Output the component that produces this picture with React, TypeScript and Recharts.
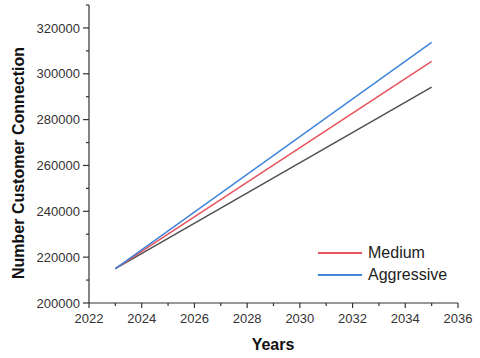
import { Line, LineChart, XAxis, YAxis } from "recharts";

const years = [2023, 2035];
const lowValues = [215000, 294200];
const mediumValues = [215000, 305400];
const aggressiveValues = [215000, 313700];

const xTicks = [2022, 2023, 2024, 2025, 2026, 2027, 2028, 2029, 2030, 2031, 2032, 2033, 2034, 2035, 2036];
const yTicks = [200000, 210000, 220000, 230000, 240000, 250000, 260000, 270000, 280000, 290000, 300000, 310000, 320000, 330000];

const series = [
  { key: "low", name: "Low", color: "#505050", values: lowValues, inLegend: false },
  { key: "medium", name: "Medium", color: "#e8525c", values: mediumValues, inLegend: true },
  { key: "aggressive", name: "Aggressive", color: "#3f86d9", values: aggressiveValues, inLegend: true },
];

const data = years.map((year, i) => {
  const row: Record<string, number> = { year };
  series.forEach((s) => {
    row[s.key] = s.values[i];
  });
  return row;
});

const FONT = '"Liberation Sans", Arial, sans-serif';
const AXIS = "#333";

function XTick(props: any) {
  const { x, y, payload } = props;
  const major = payload.value % 2 === 0;
  const top = y - 7;
  return (
    <g>
      <line x1={x} x2={x} y1={top} y2={top + (major ? 5 : 3)} stroke={AXIS} strokeWidth={1.2} />
      {major && (
        <text x={x} y={y + 13} textAnchor="middle" fontSize={13} fill={AXIS} fontFamily={FONT}>
          {payload.value}
        </text>
      )}
    </g>
  );
}

function YTick(props: any) {
  const { x, y, payload } = props;
  const major = payload.value % 20000 === 0;
  const right = x + 9;
  return (
    <g>
      <line x1={right - (major ? 6 : 3)} x2={right} y1={y} y2={y} stroke={AXIS} strokeWidth={1.2} />
      {major && (
        <text x={x} y={y} dy="0.36em" textAnchor="end" fontSize={13} fill={AXIS} fontFamily={FONT}>
          {payload.value}
        </text>
      )}
    </g>
  );
}

function LegendBox() {
  return (
    <div style={{ position: "absolute", left: 318, top: 242, fontFamily: FONT, fontSize: 16, color: "#222" }}>
      {series
        .filter((s) => s.inLegend)
        .map((s) => (
          <div key={s.key} style={{ display: "flex", alignItems: "center", height: 22 }}>
            <div style={{ width: 44, height: 2, background: s.color, marginRight: 6 }} />
            <span>{s.name}</span>
          </div>
        ))}
    </div>
  );
}

export default function App() {
  return (
    <div style={{ position: "absolute", left: 0, top: 0, width: 480, height: 358, background: "#fff" }}>
      <LineChart width={480} height={358} data={data} margin={{ top: 5, right: 22, left: 0, bottom: 0 }}>
        <XAxis
          dataKey="year"
          type="number"
          domain={[2022, 2036]}
          ticks={xTicks}
          interval={0}
          height={55}
          tickSize={5}
          tickMargin={2}
          tickLine={false}
          stroke={AXIS}
          strokeWidth={1.2}
          tick={<XTick />}
          label={() => (
            <text x={273} y={344} dy="0.36em" textAnchor="middle" fontSize={16} fontWeight="bold" fill="#111" fontFamily={FONT}>
              Years
            </text>
          )}
        />
        <YAxis
          type="number"
          domain={[200000, 330000]}
          ticks={yTicks}
          interval={0}
          width={89}
          tickSize={5}
          tickMargin={4}
          tickLine={false}
          stroke={AXIS}
          strokeWidth={1.2}
          tick={<YTick />}
          label={() => (
            <text
              x={18}
              y={163}
              transform="rotate(-90 18 163)"
              textAnchor="middle"
              dy="0.36em"
              fontSize={16}
              fontWeight="bold"
              fill="#111"
              fontFamily={FONT}
            >
              Number Customer Connection
            </text>
          )}
        />
        {series.map((s) => (
          <Line
            key={s.key}
            dataKey={s.key}
            name={s.name}
            stroke={s.color}
            strokeWidth={1.5}
            dot={false}
            isAnimationActive={false}
          />
        ))}
      </LineChart>
      <LegendBox />
    </div>
  );
}
